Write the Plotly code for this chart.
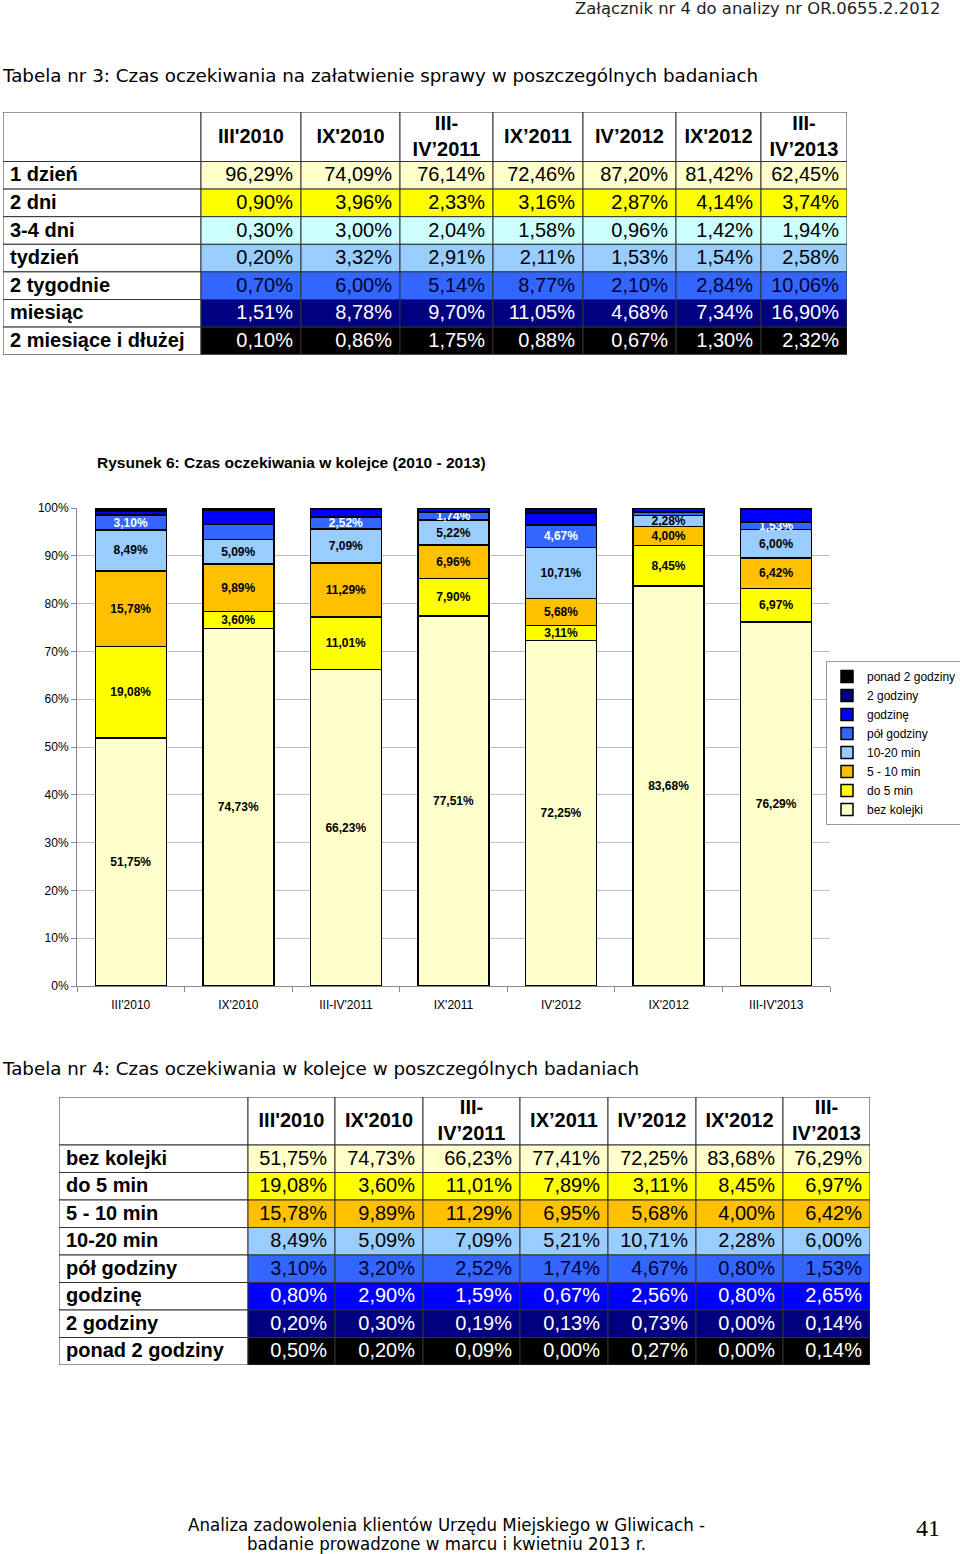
import plotly.graph_objects as go

# ---------------- DATA ----------------
periods_t = ["III'2010", "IX'2010", "III-<br>IV’2011", "IX’2011", "IV’2012", "IX'2012", "III-<br>IV’2013"]
periods_chart = ["III'2010", "IX'2010", "III-IV'2011", "IX'2011", "IV'2012", "IX'2012", "III-IV'2013"]

# Table 3
t3_rows = ["1 dzień", "2 dni", "3-4 dni", "tydzień", "2 tygodnie", "miesiąc", "2 miesiące i dłużej"]
t3_1dzien = [96.29, 74.09, 76.14, 72.46, 87.20, 81.42, 62.45]
t3_2dni = [0.90, 3.96, 2.33, 3.16, 2.87, 4.14, 3.74]
t3_34dni = [0.30, 3.00, 2.04, 1.58, 0.96, 1.42, 1.94]
t3_tydzien = [0.20, 3.32, 2.91, 2.11, 1.53, 1.54, 2.58]
t3_2tyg = [0.70, 6.00, 5.14, 8.77, 2.10, 2.84, 10.06]
t3_miesiac = [1.51, 8.78, 9.70, 11.05, 4.68, 7.34, 16.90]
t3_2mies = [0.10, 0.86, 1.75, 0.88, 0.67, 1.30, 2.32]

# Table 4
t4_rows = ["bez kolejki", "do 5 min", "5 - 10 min", "10-20 min", "pół godziny", "godzinę", "2 godziny", "ponad 2 godziny"]
t4_bez = [51.75, 74.73, 66.23, 77.41, 72.25, 83.68, 76.29]
t4_do5 = [19.08, 3.60, 11.01, 7.89, 3.11, 8.45, 6.97]
t4_5_10 = [15.78, 9.89, 11.29, 6.95, 5.68, 4.00, 6.42]
t4_10_20 = [8.49, 5.09, 7.09, 5.21, 10.71, 2.28, 6.00]
t4_pol = [3.10, 3.20, 2.52, 1.74, 4.67, 0.80, 1.53]
t4_godz = [0.80, 2.90, 1.59, 0.67, 2.56, 0.80, 2.65]
t4_2godz = [0.20, 0.30, 0.19, 0.13, 0.73, 0.00, 0.14]
t4_ponad = [0.50, 0.20, 0.09, 0.00, 0.27, 0.00, 0.14]

# Chart (Rysunek 6)
ch_bez = [51.75, 74.73, 66.23, 77.51, 72.25, 83.68, 76.29]
ch_do5 = [19.08, 3.60, 11.01, 7.90, 3.11, 8.45, 6.97]
ch_5_10 = [15.78, 9.89, 11.29, 6.96, 5.68, 4.00, 6.42]
ch_10_20 = [8.49, 5.09, 7.09, 5.22, 10.71, 2.28, 6.00]
ch_pol = [3.10, 3.20, 2.52, 1.74, 4.67, 0.80, 1.53]
ch_godz = [0.80, 2.90, 1.59, 0.67, 2.56, 0.80, 2.65]
ch_2godz = [0.20, 0.30, 0.19, 0.13, 0.73, 0.00, 0.14]
ch_ponad = [0.50, 0.20, 0.09, 0.00, 0.27, 0.00, 0.14]
ch_pol_labeled = [True, False, True, True, True, False, True]
y_ticks = list(range(0, 101, 10))

# ---------------- HELPERS ----------------
W, H = 960, 1554
def px(x):
    return x / W
def py(y):
    return 1 - y / H
def fmt(v):
    return f"{v:.2f}".replace(".", ",") + "%"

FONT = "Liberation Sans, Arial, sans-serif"
VFONT = "DejaVu Sans, Verdana, sans-serif"
LINE = "#333333"

fig = go.Figure()
shapes = []


def draw_table(n, left, top, colw, head_h, row_h, headers, rows, data, fills, fcolors):
    """Draw a table on its own pixel-unit axis pair (xaxis n / yaxis n)."""
    total_w = sum(colw)
    total_h = head_h + row_h * len(rows)
    xa, ya = f"x{n}", f"y{n}"
    fig.update_layout(**{
        f"xaxis{n}": dict(domain=[px(left), px(left + total_w)], range=[0, total_w],
                          visible=False, anchor=ya, fixedrange=True),
        f"yaxis{n}": dict(domain=[py(top + total_h), py(top)], range=[total_h, 0],
                          visible=False, anchor=xa, fixedrange=True),
    })
    edges = [0]
    for w in colw:
        edges.append(edges[-1] + w)
    for c in range(len(colw)):
        shapes.append(dict(type="rect", xref=xa, yref=ya, x0=edges[c], x1=edges[c + 1],
                           y0=0, y1=head_h, fillcolor="white",
                           line=dict(color=LINE, width=1), layer="below"))
    for r in range(len(rows)):
        y0 = head_h + r * row_h
        for c in range(len(colw)):
            fc = "white" if c == 0 else fills[r]
            shapes.append(dict(type="rect", xref=xa, yref=ya, x0=edges[c], x1=edges[c + 1],
                               y0=y0, y1=y0 + row_h, fillcolor=fc,
                               line=dict(color=LINE, width=1), layer="below"))
    fig.add_trace(go.Scatter(
        x=[(edges[c + 1] + edges[c + 2]) / 2 for c in range(len(headers))],
        y=[head_h / 2 + 1] * len(headers),
        text=["<b>%s</b>" % h for h in headers], mode="text", textposition="middle center",
        textfont=dict(family=FONT, size=20, color="black"),
        xaxis=xa, yaxis=ya, showlegend=False, hoverinfo="skip", cliponaxis=False))
    fig.add_trace(go.Scatter(
        x=[7] * len(rows), y=[head_h + (r + 0.5) * row_h + 1 for r in range(len(rows))],
        text=["<b>%s</b>" % r for r in rows], mode="text", textposition="middle right",
        textfont=dict(family=FONT, size=20, color="black"),
        xaxis=xa, yaxis=ya, showlegend=False, hoverinfo="skip", cliponaxis=False))
    xs, ys, ts, cs = [], [], [], []
    for r in range(len(rows)):
        for c in range(len(headers)):
            xs.append(edges[c + 2] - 8)
            ys.append(head_h + (r + 0.5) * row_h + 1)
            ts.append(fmt(data[r][c]))
            cs.append(fcolors[r])
    fig.add_trace(go.Scatter(
        x=xs, y=ys, text=ts, mode="text", textposition="middle left",
        textfont=dict(family=FONT, size=20, color=cs),
        xaxis=xa, yaxis=ya, showlegend=False, hoverinfo="skip", cliponaxis=False))


# ---------------- TABLE 3 ----------------
draw_table(2, 3, 112, [198, 100, 99, 93, 90, 93, 85, 86], 49.5, 27.6,
           periods_t, t3_rows,
           [t3_1dzien, t3_2dni, t3_34dni, t3_tydzien, t3_2tyg, t3_miesiac, t3_2mies],
           ["#FFFFCC", "#FFFF00", "#CCFFFF", "#99CCFF", "#3366FF", "#000080", "#000000"],
           ["black", "black", "black", "black", "#000033", "white", "white"])

# ---------------- TABLE 4 ----------------
draw_table(3, 59, 1097, [189, 87, 88, 97, 88, 88, 87, 87], 48, 27.5,
           periods_t, t4_rows,
           [t4_bez, t4_do5, t4_5_10, t4_10_20, t4_pol, t4_godz, t4_2godz, t4_ponad],
           ["#FFFFCC", "#FFFF00", "#FFC000", "#99CCFF", "#3366FF", "#0000FF", "#000080", "#000000"],
           ["black", "black", "black", "black", "#000033", "white", "white", "white"])

# ---------------- CHART ----------------
series = [
    ("bez kolejki", ch_bez, "#FFFFCC", "black", [True] * 7),
    ("do 5 min", ch_do5, "#FFFF00", "black", [True] * 7),
    ("5 - 10 min", ch_5_10, "#FFC000", "black", [True] * 7),
    ("10-20 min", ch_10_20, "#99CCFF", "black", [True] * 7),
    ("pół godziny", ch_pol, "#3366FF", "white", ch_pol_labeled),
    ("godzinę", ch_godz, "#0000FF", "white", [False] * 7),
    ("2 godziny", ch_2godz, "#000080", "white", [False] * 7),
    ("ponad 2 godziny", ch_ponad, "#000000", "white", [False] * 7),
]
for name, vals, col, tcol, mask in series:
    fig.add_trace(go.Bar(
        name=name, x=periods_chart, y=vals,
        marker=dict(color=col, line=dict(color="black", width=1.5)),
        text=[fmt(v) if m else "" for v, m in zip(vals, mask)],
        texttemplate="%{text}", textposition="inside", insidetextanchor="middle",
        textangle=0, constraintext="none",
        textfont=dict(family=FONT, size=12, color=tcol, weight="bold"),
        hoverinfo="skip",
    ))

fig.update_layout(
    barmode="stack", barnorm="percent", bargap=0.34,
    width=W, height=H, autosize=False,
    margin=dict(l=0, r=0, t=0, b=0, pad=0, autoexpand=False),
    paper_bgcolor="white", plot_bgcolor="white",
    font=dict(family=FONT, size=12, color="black"),
    xaxis=dict(domain=[px(77), px(830)], showline=True, linecolor="#888", linewidth=1,
               ticks="outside", tickson="boundaries", ticklen=5, tickcolor="#888",
               ticklabelstandoff=8, tickfont=dict(family=FONT, size=12), fixedrange=True),
    yaxis=dict(domain=[py(986), py(508)], range=[0, 100], tickmode="array",
               tickvals=y_ticks, ticktext=[f"{v}%" for v in y_ticks],
               showline=True, linecolor="#888", linewidth=1,
               ticks="outside", ticklen=5, tickcolor="#888",
               showgrid=True, gridcolor="#C0C0C0", gridwidth=1, zeroline=False,
               tickfont=dict(family=FONT, size=12), fixedrange=True),
    legend=dict(x=px(826), y=py(661), xanchor="left", yanchor="top",
                traceorder="reversed", bordercolor="#999", borderwidth=1,
                font=dict(family=FONT, size=12), itemwidth=30,
                tracegroupgap=0, bgcolor="white"),
    showlegend=True,
)

annots = [
    dict(text="Załącznik nr 4 do analizy nr OR.0655.2.2012", x=px(942), y=py(8),
         xanchor="right", font=dict(family=VFONT, size=16.4, color="#222")),
    dict(text="Tabela nr 3: Czas oczekiwania na załatwienie sprawy w poszczególnych badaniach",
         x=px(0), y=py(76), xanchor="left", font=dict(family=VFONT, size=18.3, color="black")),
    dict(text="<b>Rysunek 6: Czas oczekiwania w kolejce (2010 - 2013)</b>",
         x=px(95), y=py(462), xanchor="left", font=dict(family=FONT, size=15.5, color="black")),
    dict(text="Tabela nr 4: Czas oczekiwania w kolejce w poszczególnych badaniach",
         x=px(0), y=py(1068), xanchor="left", font=dict(family=VFONT, size=18.3, color="black")),
    dict(text="Analiza zadowolenia klientów Urzędu Miejskiego w Gliwicach -",
         x=px(446), y=py(1524), xanchor="center",
         font=dict(family="DejaVu Sans Condensed, DejaVu Sans, sans-serif", size=18.5, color="black")),
    dict(text="badanie prowadzone w marcu i kwietniu 2013 r.",
         x=px(446), y=py(1543), xanchor="center",
         font=dict(family="DejaVu Sans Condensed, DejaVu Sans, sans-serif", size=18.5, color="black")),
    dict(text="41", x=px(928), y=py(1528), xanchor="center",
         font=dict(family="Liberation Serif, Times New Roman, serif", size=24, color="black")),
]
for a in annots:
    a.update(xref="paper", yref="paper", yanchor="middle", showarrow=False)
fig.update_layout(annotations=annots, shapes=shapes)

fig.write_html("out.html", config={"displayModeBar": False},
               post_script="document.body.style.margin='0';document.body.style.overflow='hidden';")
